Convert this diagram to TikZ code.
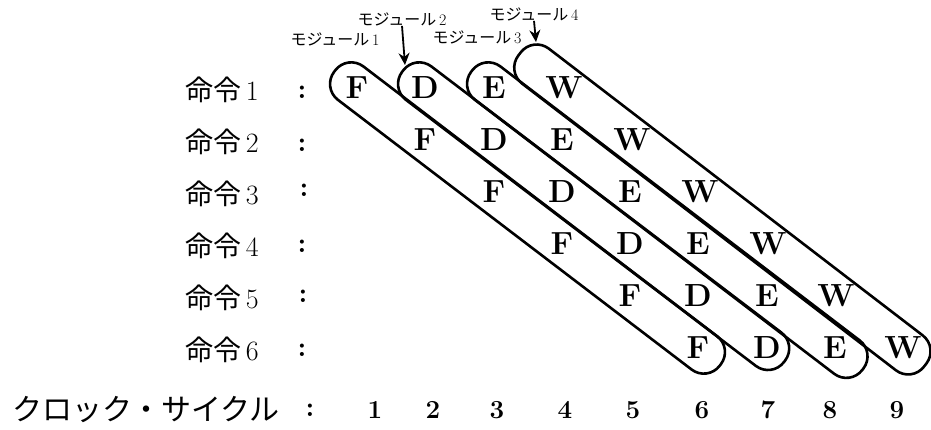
\documentclass[tikz,border=0pt]{standalone}
\usepackage{fontspec}
\newfontfamily\cjk{Noto Sans CJK JP}
\usepackage{tikz}
\usetikzlibrary{arrows.meta, calc}

\tikzset{
  stage/.style={font=\fontsize{32}{32}\selectfont\bfseries, inner sep=0pt},
  instr/.style={font=\fontsize{28}{28}\selectfont, inner sep=0pt},
  sepcolon/.style={font=\fontsize{28}{28}\selectfont\bfseries, inner sep=0pt},
  clk/.style={font=\fontsize{26}{26}\selectfont\bfseries, inner sep=0pt},
  modlbl/.style={font=\fontsize{16}{16}\selectfont, inner sep=0pt},
  capsule/.style={line width=2.6pt, rounded corners=20pt},
  modarrow/.style={line width=1.8pt, -{Stealth[length=12pt,width=11pt]}},
}

\begin{document}
\begin{tikzpicture}[x=1pt, y=-1pt]
\useasboundingbox (0,0) rectangle (931,430);

% instructions
\node[instr] (i1) at (222,90) {{\cjk 命令}\,1};
\node[instr] (i2) at (222,142) {{\cjk 命令}\,2};
\node[instr] (i3) at (222,194) {{\cjk 命令}\,3};
\node[instr] (i4) at (222,246) {{\cjk 命令}\,4};
\node[instr] (i5) at (222,298) {{\cjk 命令}\,5};
\node[instr] (i6) at (222,350) {{\cjk 命令}\,6};
\node[sepcolon] (s1) at (302,92) {:};
\node[sepcolon] (s2) at (302,145) {:};
\node[sepcolon] (s3) at (304,190) {:};
\node[sepcolon] (s4) at (302,246) {:};
\node[sepcolon] (s5) at (303,296) {:};
\node[sepcolon] (s6) at (302,350) {:};

% pipeline stages
\node[stage] (f1) at (357,88) {F};
\node[stage] (d1) at (425,88) {D};
\node[stage] (e1) at (494,88) {E};
\node[stage] (w1) at (564,88) {W};
\node[stage] (f2) at (425,140) {F};
\node[stage] (d2) at (494,140) {D};
\node[stage] (e2) at (562,140) {E};
\node[stage] (w2) at (632,140) {W};
\node[stage] (f3) at (494,192) {F};
\node[stage] (d3) at (562,192) {D};
\node[stage] (e3) at (630,192) {E};
\node[stage] (w3) at (700,192) {W};
\node[stage] (f4) at (562,244) {F};
\node[stage] (d4) at (630,244) {D};
\node[stage] (e4) at (698,244) {E};
\node[stage] (w4) at (768,244) {W};
\node[stage] (f5) at (630,296) {F};
\node[stage] (d5) at (698,296) {D};
\node[stage] (e5) at (767,296) {E};
\node[stage] (w5) at (836,296) {W};
\node[stage] (f6) at (698,348) {F};
\node[stage] (d6) at (767,348) {D};
\node[stage] (e6) at (835,348) {E};
\node[stage] (w6) at (903,348) {W};

% modules (capsules along the diagonals)
\coordinate (m1s) at ($(f1)!-28pt!(f6)$);
\coordinate (m1e) at ($(f6)!-28pt!(f1)$);
\coordinate (m2s) at ($(d1)!-28pt!(d6)$);
\coordinate (m2e) at ($(d6)!-22pt!(d1)$);
\coordinate (m3s) at ($(e1)!-28pt!(e6)$);
\coordinate (m3e) at ($(e6)!-35pt!(e1)$);
\coordinate (m4s) at ($(w1)!-56pt!(w6)$);
\coordinate (m4e) at ($(w6)!-28pt!(w1)$);
\draw[capsule] ($(m1s)!21pt!90:(m1e)$) -- ($(m1e)!21pt!-90:(m1s)$) -- ($(m1e)!21pt!90:(m1s)$) -- ($(m1s)!21pt!-90:(m1e)$) -- cycle;
\draw[capsule] ($(m2s)!21pt!90:(m2e)$) -- ($(m2e)!21pt!-90:(m2s)$) -- ($(m2e)!21pt!90:(m2s)$) -- ($(m2s)!21pt!-90:(m2e)$) -- cycle;
\draw[capsule] ($(m3s)!21pt!90:(m3e)$) -- ($(m3e)!21pt!-90:(m3s)$) -- ($(m3e)!21pt!90:(m3s)$) -- ($(m3s)!21pt!-90:(m3e)$) -- cycle;
\draw[capsule] ($(m4s)!22pt!90:(m4e)$) -- ($(m4e)!22pt!-90:(m4s)$) -- ($(m4e)!22pt!90:(m4s)$) -- ($(m4s)!22pt!-90:(m4e)$) -- cycle;

% module labels
\node[modlbl] (ml1) at (335,39) {{\cjk モジュール}\,1};
\node[modlbl] (ml2) at (402,19) {{\cjk モジュール}\,2};
\node[modlbl] (ml3) at (477,37) {{\cjk モジュール}\,3};
\node[modlbl] (ml4) at (534,14) {{\cjk モジュール}\,4};
\coordinate (m2tip) at (405,65);
\coordinate (m4tip) at (536,42);
\draw[modarrow] (ml2.south) -- (m2tip);
\draw[modarrow] (ml4.south) -- (m4tip);

% clock cycles
\node[instr, font=\fontsize{30}{30}\selectfont] (clab) at (146,410) {\cjk クロック・サイクル};
\node[sepcolon] (cs) at (310,410) {:};
\node[clk] (t1) at (375,410) {1};
\node[clk] (t2) at (433,410) {2};
\node[clk] (t3) at (497,410) {3};
\node[clk] (t4) at (565,410) {4};
\node[clk] (t5) at (633,410) {5};
\node[clk] (t6) at (702,410) {6};
\node[clk] (t7) at (768,410) {7};
\node[clk] (t8) at (830,410) {8};
\node[clk] (t9) at (897,410) {9};
\end{tikzpicture}
\end{document}
